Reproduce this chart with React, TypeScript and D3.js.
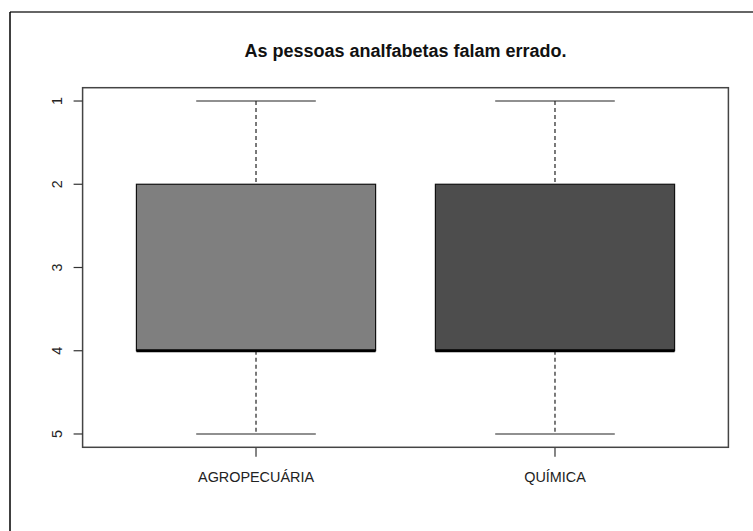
import React from "react";
import * as d3 from "d3";

const categories = ["AGROPECUÁRIA", "QUÍMICA"];
const mins = [1, 1];
const q1s = [2, 2];
const medians = [4, 4];
const q3s = [4, 4];
const maxs = [5, 5];
const fills = ["#7f7f7f", "#4d4d4d"];
const yTicks = [1, 2, 3, 4, 5];
const title = "As pessoas analfabetas falam errado.";

export default function App() {
  const W = 753, H = 531;
  const x = d3.scaleLinear().domain([0.42, 2.58]).range([82.6, 728.4]);
  const y = d3.scaleLinear().domain([0.84, 5.16]).range([87.7, 447.3]);
  const boxHalf = 0.4;
  const capHalf = 0.2;
  const font = "Liberation Sans, Arial, sans-serif";
  const [x0, x1] = x.range();
  const [y0, y1] = y.range();
  return (
    <svg width={W} height={H} style={{ position: "absolute", left: 0, top: 0, background: "#fff" }}>
      <rect x={0} y={0} width={W} height={H} fill="#fff" />
      <line x1={10} y1={12} x2={W} y2={12} stroke="#333" strokeWidth={1.5} />
      <line x1={10} y1={12} x2={10} y2={H} stroke="#000" strokeWidth={1.5} />
      <text x={(x0 + x1) / 2} y={57} textAnchor="middle" fontFamily={font} fontWeight="bold" fontSize={18} fill="#111">
        {title}
      </text>
      {categories.map((c, i) => {
        const cx = x(i + 1);
        const bl = x(i + 1 - boxHalf), br = x(i + 1 + boxHalf);
        return (
          <g key={c}>
            <line x1={cx} x2={cx} y1={y(mins[i])} y2={y(q1s[i])} stroke="#222" strokeWidth={1.2} strokeDasharray="4,3" />
            <line x1={cx} x2={cx} y1={y(q3s[i])} y2={y(maxs[i])} stroke="#222" strokeWidth={1.2} strokeDasharray="4,3" />
            <line x1={x(i + 1 - capHalf)} x2={x(i + 1 + capHalf)} y1={y(mins[i])} y2={y(mins[i])} stroke="#222" strokeWidth={1.2} />
            <line x1={x(i + 1 - capHalf)} x2={x(i + 1 + capHalf)} y1={y(maxs[i])} y2={y(maxs[i])} stroke="#222" strokeWidth={1.2} />
            <rect x={bl} y={y(q1s[i])} width={br - bl} height={y(q3s[i]) - y(q1s[i])} fill={fills[i]} stroke="#111" strokeWidth={1.2} />
            <line x1={bl} x2={br} y1={y(medians[i])} y2={y(medians[i])} stroke="#000" strokeWidth={3} />
            <line x1={cx} x2={cx} y1={y1} y2={y1 + 9.4} stroke="#333" strokeWidth={1.2} />
            <text x={cx} y={481.5} textAnchor="middle" fontFamily={font} fontSize={14.4} fill="#222">{c}</text>
          </g>
        );
      })}
      <rect x={x0} y={y0} width={x1 - x0} height={y1 - y0} fill="none" stroke="#444" strokeWidth={1.5} />
      {yTicks.map((t) => (
        <g key={t}>
          <line x1={x0 - 9} x2={x0} y1={y(t)} y2={y(t)} stroke="#333" strokeWidth={1.2} />
          <text transform={`translate(62,${y(t)}) rotate(-90)`} textAnchor="middle" fontFamily={font} fontSize={14.4} fill="#222">{t}</text>
        </g>
      ))}
    </svg>
  );
}
